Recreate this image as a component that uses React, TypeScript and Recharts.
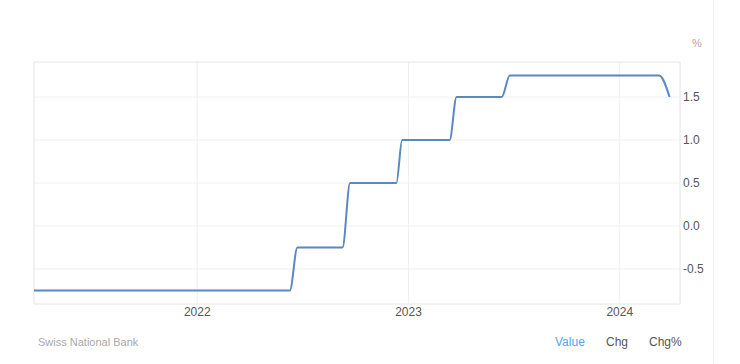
import React from 'react';
import { LineChart, Line, XAxis, YAxis, CartesianGrid, ReferenceArea } from 'recharts';

// SNB policy rate, points at each decision (before / after)
const dates = [
  '2021-03-25', '2022-06-10', '2022-06-23', '2022-09-09', '2022-09-22',
  '2022-12-11', '2022-12-21', '2023-03-13', '2023-03-25', '2023-06-11',
  '2023-06-25', '2024-03-09', '2024-03-27',
];
const values = [-0.75, -0.75, -0.25, -0.25, 0.5, 0.5, 1.0, 1.0, 1.5, 1.5, 1.75, 1.75, 1.5];

const xTicks = ['2022-01-01', '2023-01-01', '2024-01-01'];
const yTicks = [-0.5, 0, 0.5, 1, 1.5];
const xStart = '2021-03-25';
const xEnd = '2024-04-14';
const yMin = -0.907;
const yMax = 1.907;

const ts = (d: string) => new Date(d + 'T00:00:00Z').getTime();

const data = dates.map((d, i) => ({ t: ts(d), v: values[i] }));

const font = 'Arial, "Liberation Sans", sans-serif';

export default function App() {
  return (
    <div style={{ position: 'fixed', left: 0, top: 0, width: 740, height: 364, background: '#fff', fontFamily: font }}>
      <div style={{ position: 'absolute', left: 713, top: 0, width: 1, height: 364, background: '#f2f2f2' }} />
      <div style={{ position: 'absolute', left: 692, top: 37, fontSize: 11, color: '#aaa' }}>%</div>
      <LineChart width={740} height={364} data={data} margin={{ top: 62, right: 0, bottom: 0, left: 34 }}>
        <CartesianGrid stroke="#f0f0f0" strokeWidth={1} />
        <ReferenceArea
          x1={ts(xStart)}
          x2={ts(xEnd)}
          y1={yMin}
          y2={yMax}
          fill="none"
          stroke="#ececec"
          strokeWidth={1}
        />
        <XAxis
          dataKey="t"
          type="number"
          scale="time"
          domain={[ts(xStart), ts(xEnd)]}
          ticks={xTicks.map(ts)}
          tickFormatter={(t: number) => String(new Date(t).getUTCFullYear())}
          height={60}
          axisLine={false}
          tickLine={false}
          tickSize={0}
          tickMargin={3}
          tick={{ fontSize: 12, fill: '#555', fontFamily: font }}
        />
        <YAxis
          orientation="right"
          type="number"
          domain={[yMin, yMax]}
          ticks={yTicks}
          tickFormatter={(v: number) => v.toFixed(1)}
          width={60}
          axisLine={false}
          tickLine={false}
          tickSize={0}
          tickMargin={3}
          tick={{ fontSize: 12, fill: '#555', fontFamily: font }}
        />
        <Line
          type="monotone"
          dataKey="v"
          stroke="#5b87c2"
          strokeWidth={2}
          dot={false}
          isAnimationActive={false}
        />
      </LineChart>
      <div style={{ position: 'absolute', left: 38, top: 336, fontSize: 11, color: '#a8a8a8' }}>Swiss National Bank</div>
      <div style={{ position: 'absolute', left: 555, top: 335, fontSize: 12, color: '#4da6f2' }}>Value</div>
      <div style={{ position: 'absolute', left: 606, top: 335, fontSize: 12, color: '#555' }}>Chg</div>
      <div style={{ position: 'absolute', left: 649, top: 335, fontSize: 12, color: '#555' }}>Chg%</div>
    </div>
  );
}
